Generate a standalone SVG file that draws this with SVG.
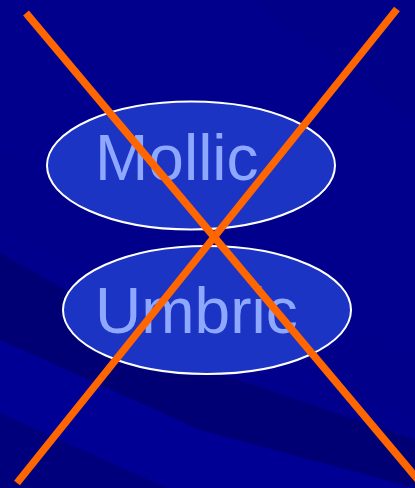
<svg xmlns="http://www.w3.org/2000/svg" width="415" height="488" viewBox="0 0 415 488">
  <style>
    .node ellipse { fill: #1c34c4; stroke: #ffffff; stroke-width: 2; }
    .node text { font-family: "Liberation Sans", Arial, sans-serif; font-size: 64px; fill: #8fa8ff; }
    .cross line { stroke: #ff6600; stroke-width: 7.5; stroke-linecap: butt; }
  </style>
  <g id="background">
    <rect x="0" y="0" width="415" height="488" fill="#00008c"/>
    <polygon points="250,0 415,0 415,120" fill="#000088"/>
    <polygon points="0,150 0,230 415,420 415,360" fill="#00008a"/>
    <polygon points="0,253 200,367 415,440 415,488 200,430 0,340" fill="#000074"/>
    <polygon points="0,340 200,430 415,488 0,488" fill="#000094"/>
    <polygon points="0,413 167,488 0,488" fill="#00007c"/>
  </g>
  <g id="mollic" class="node">
    <ellipse cx="191" cy="165.5" rx="144" ry="64"/>
    <text x="95" y="180">Mollic</text>
  </g>
  <g id="umbric" class="node">
    <ellipse cx="207" cy="310" rx="144" ry="64"/>
    <text x="95" y="333">Umbric</text>
  </g>
  <g id="connectors" class="cross">
    <line x1="26" y1="13" x2="420" y2="482"/>
    <line x1="397" y1="9" x2="17" y2="483"/>
  </g>
</svg>
